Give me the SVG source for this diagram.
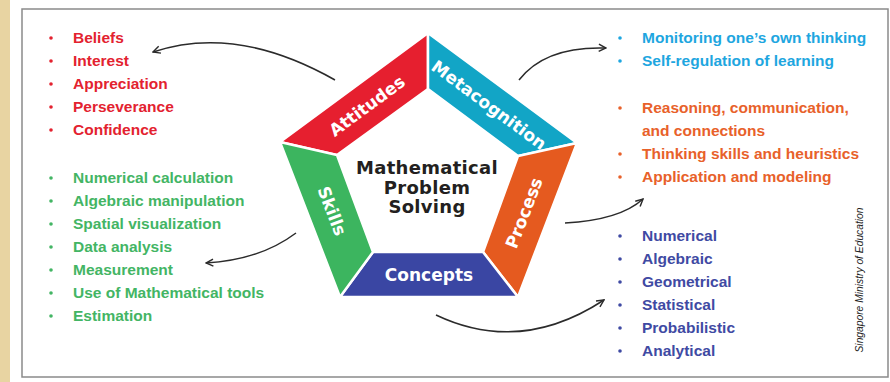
<svg xmlns="http://www.w3.org/2000/svg" width="890" height="382" viewBox="0 0 890 382">
<style>
.seg{stroke:#fff;stroke-width:2.5;stroke-linejoin:miter}
.lab{font-family:"DejaVu Sans",sans-serif;font-weight:bold;font-size:17px;fill:#fff;text-anchor:middle}
.ctr{font-family:"DejaVu Sans",sans-serif;font-weight:bold;font-size:18px;letter-spacing:0.3px;fill:#231f20;text-anchor:middle}
.li{font-family:"Liberation Sans",Arial,sans-serif;font-weight:bold;font-size:15.5px}
.red{fill:#e3222f}.grn{fill:#43b564}.cyn{fill:#1ea6e0}.org{fill:#e8612a}.nav{fill:#3f4aa3}
.con{fill:none;stroke:#2b2b2b;stroke-width:1.5;marker-end:url(#ah)}
</style>
<defs>
<marker id="ah" viewBox="0 0 10 10" refX="9" refY="5" markerWidth="9" markerHeight="9" markerUnits="userSpaceOnUse" orient="auto">
<path d="M1,1 L9,5 L1,9" fill="none" stroke="#2b2b2b" stroke-width="1.6"/>
</marker>
</defs>
<rect x="0" y="0" width="890" height="382" fill="#fff"/>
<rect x="0" y="0" width="10" height="382" fill="#e8d4a2"/>
<rect x="22" y="9" width="866" height="368" fill="#fff" stroke="#8a8a8a" stroke-width="1.5"/>

<g id="attitudes">
<polygon class="seg" fill="#e61f2f" points="280,142 428,33 428,89 337,155"/>
<text class="lab" transform="translate(367,106) rotate(-36.4)" y="6">Attitudes</text>
</g>
<g id="metacognition">
<polygon class="seg" fill="#12a5c6" points="428,33 577,143 518,156 428,89"/>
<text class="lab" transform="translate(489,105) rotate(36.4)" y="6">Metacognition</text>
</g>
<g id="process">
<polygon class="seg" fill="#e55a1f" points="577,143 518,297 483,252 518,156"/>
<text class="lab" transform="translate(524,213) rotate(-69)" y="6">Process</text>
</g>
<g id="concepts">
<polygon class="seg" fill="#3a46a3" points="518,297 340,297 373,252 483,252"/>
<text class="lab" x="429" y="281">Concepts</text>
</g>
<g id="skills">
<polygon class="seg" fill="#3cb55f" points="340,297 280,142 337,155 373,252"/>
<text class="lab" transform="translate(332,211) rotate(69)" y="6">Skills</text>
</g>
<g id="center">
<text class="ctr" x="427" y="174">Mathematical</text>
<text class="ctr" x="427" y="193.5">Problem</text>
<text class="ctr" x="427" y="213">Solving</text>
</g>

<g id="attitudes-list" class="li red">
<circle cx="51" cy="38" r="1.8"/><text x="73" y="43">Beliefs</text>
<circle cx="51" cy="61" r="1.8"/><text x="73" y="66">Interest</text>
<circle cx="51" cy="84" r="1.8"/><text x="73" y="89">Appreciation</text>
<circle cx="51" cy="107" r="1.8"/><text x="73" y="112">Perseverance</text>
<circle cx="51" cy="130" r="1.8"/><text x="73" y="135">Confidence</text>
</g>
<g id="skills-list" class="li grn">
<circle cx="51" cy="178" r="1.8"/><text x="73" y="183">Numerical calculation</text>
<circle cx="51" cy="201" r="1.8"/><text x="73" y="206">Algebraic manipulation</text>
<circle cx="51" cy="224" r="1.8"/><text x="73" y="229">Spatial visualization</text>
<circle cx="51" cy="247" r="1.8"/><text x="73" y="252">Data analysis</text>
<circle cx="51" cy="270" r="1.8"/><text x="73" y="275">Measurement</text>
<circle cx="51" cy="293" r="1.8"/><text x="73" y="298">Use of Mathematical tools</text>
<circle cx="51" cy="316" r="1.8"/><text x="73" y="321">Estimation</text>
</g>
<g id="metacognition-list" class="li cyn">
<circle cx="620" cy="38" r="1.8"/><text x="642" y="43">Monitoring one’s own thinking</text>
<circle cx="620" cy="61" r="1.8"/><text x="642" y="66">Self-regulation of learning</text>
</g>
<g id="process-list" class="li org">
<circle cx="620" cy="108" r="1.8"/><text x="642" y="113">Reasoning, communication,</text>
<text x="642" y="136">and connections</text>
<circle cx="620" cy="154" r="1.8"/><text x="642" y="159">Thinking skills and heuristics</text>
<circle cx="620" cy="177" r="1.8"/><text x="642" y="182">Application and modeling</text>
</g>
<g id="concepts-list" class="li nav">
<circle cx="620" cy="236" r="1.8"/><text x="642" y="241">Numerical</text>
<circle cx="620" cy="259" r="1.8"/><text x="642" y="264">Algebraic</text>
<circle cx="620" cy="282" r="1.8"/><text x="642" y="287">Geometrical</text>
<circle cx="620" cy="305" r="1.8"/><text x="642" y="310">Statistical</text>
<circle cx="620" cy="328" r="1.8"/><text x="642" y="333">Probabilistic</text>
<circle cx="620" cy="351" r="1.8"/><text x="642" y="356">Analytical</text>
</g>

<g id="connectors">
<path class="con" d="M335,80 Q236,24 153,52"/>
<path class="con" d="M519,80 Q545,46 606,48"/>
<path class="con" d="M565,223 Q620,220 643,199"/>
<path class="con" d="M436,315 Q520,355 604,300"/>
<path class="con" d="M296,233 Q260,260 206,263"/>
</g>

<text transform="translate(863,280) rotate(-90)" text-anchor="middle" font-family="Liberation Sans, Arial, sans-serif" font-style="italic" font-size="11" fill="#222" textLength="145" lengthAdjust="spacingAndGlyphs">Singapore Ministry of Education</text>
</svg>
